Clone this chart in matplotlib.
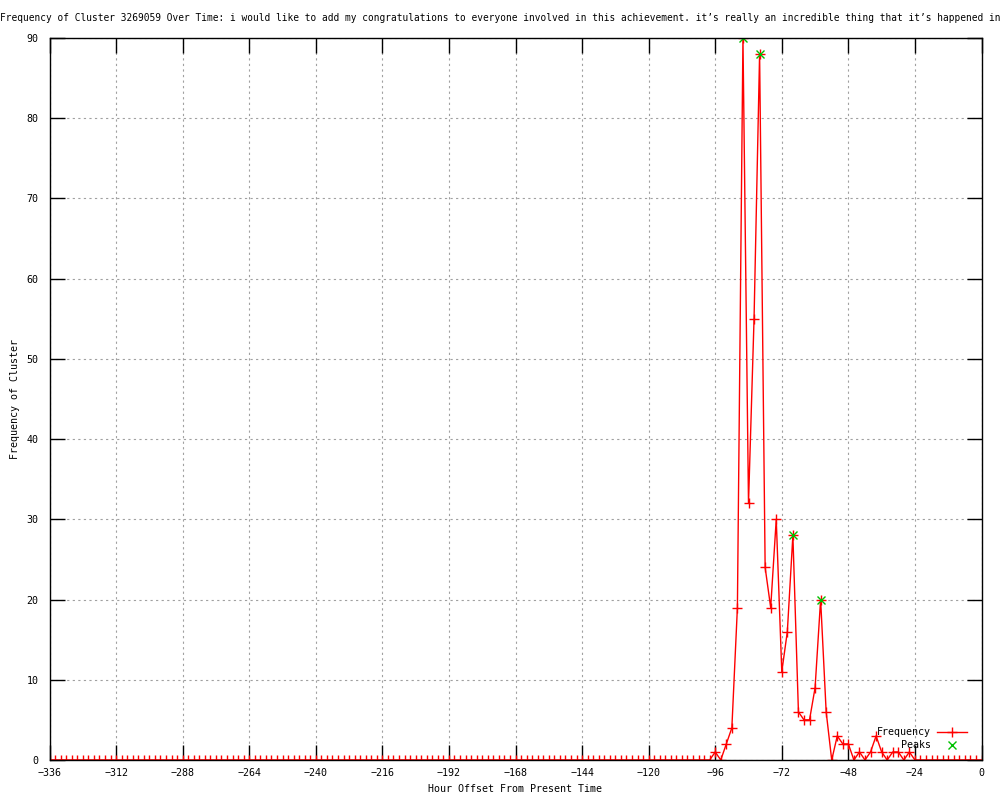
import matplotlib
matplotlib.use("Agg")
import matplotlib.pyplot as plt
import numpy as np

# Data: hour offsets every 2 hours from -336 to 0
hours = list(range(-336, 2, 2))
# non-zero region values from -96 to -24
active_hours = [-96, -94, -92, -90, -88, -86, -84, -82, -80, -78, -76, -74, -72, -70,
                -68, -66, -64, -62, -60, -58, -56, -54, -52, -50, -48, -46, -44, -42,
                -40, -38, -36, -34, -32, -30, -28, -26, -24]
active_freq = [1, 0, 2, 4, 19, 90, 32, 55, 88, 24, 19, 30, 11, 16,
               28, 6, 5, 5, 9, 20, 6, 0, 3, 2, 2, 0, 1, 0,
               1, 3, 1, 0, 1, 1, 0, 1, 0]
freq_map = dict(zip(active_hours, active_freq))
frequency = [freq_map.get(h, 0) for h in hours]

peak_hours = [-86, -80, -68, -58]
peak_values = [90, 88, 28, 20]

x_ticks = list(range(-336, 1, 24))
y_ticks = list(range(0, 91, 10))

title = ("Frequency of Cluster 3269059 Over Time: i would like to add my congratulations "
         "to everyone involved in this achievement. it\u2019s really an incredible thing "
         "that it\u2019s happened in")

mono = ["DejaVu Sans Mono"]
plt.rcParams["font.family"] = mono
plt.rcParams["font.size"] = 7.2

fig = plt.figure(figsize=(10, 8), dpi=100)
ax = fig.add_axes([0.0495, 0.05, 0.932, 0.9025])

ax.plot(hours, frequency, color="#ff0000", lw=1.0, marker="+", ms=6.5, mew=1.0,
        label="Frequency", zorder=2.2)
ax.plot(peak_hours, peak_values, ls="none", color="#00c000", marker="x", ms=5.5,
        mew=1.0, label="Peaks", zorder=2.3)

ax.set_xlim(-336, 0)
ax.set_ylim(0, 90)
ax.set_xticks(x_ticks)
ax.set_yticks(y_ticks)
ax.grid(True, color="#a0a0a0", ls=(0, (2, 3)), lw=0.8)
ax.tick_params(direction="in", length=11, width=1.0, top=True, right=True,
               labelsize=7.2, colors="black")
ax.tick_params(axis="x", pad=6)
ax.tick_params(axis="y", pad=8)
for s in ax.spines.values():
    s.set_linewidth(1.0)
    s.set_zorder(2.5)

ax.set_xlabel("Hour Offset From Present Time", fontsize=7.2, labelpad=4)
ax.set_ylabel("Frequency of Cluster", fontsize=7.2, labelpad=4.5)

fig.text(0.5, 1 - 18 / 800, title, ha="center", va="center", fontsize=6.85)

leg = ax.legend(loc="lower right", bbox_to_anchor=(0.995, 0.0),
                frameon=False, markerfirst=False, fontsize=7.2,
                handlelength=3.0, handletextpad=0.6, labelspacing=0.3,
                borderaxespad=0.6)

fig.savefig("out.png", dpi=100)
